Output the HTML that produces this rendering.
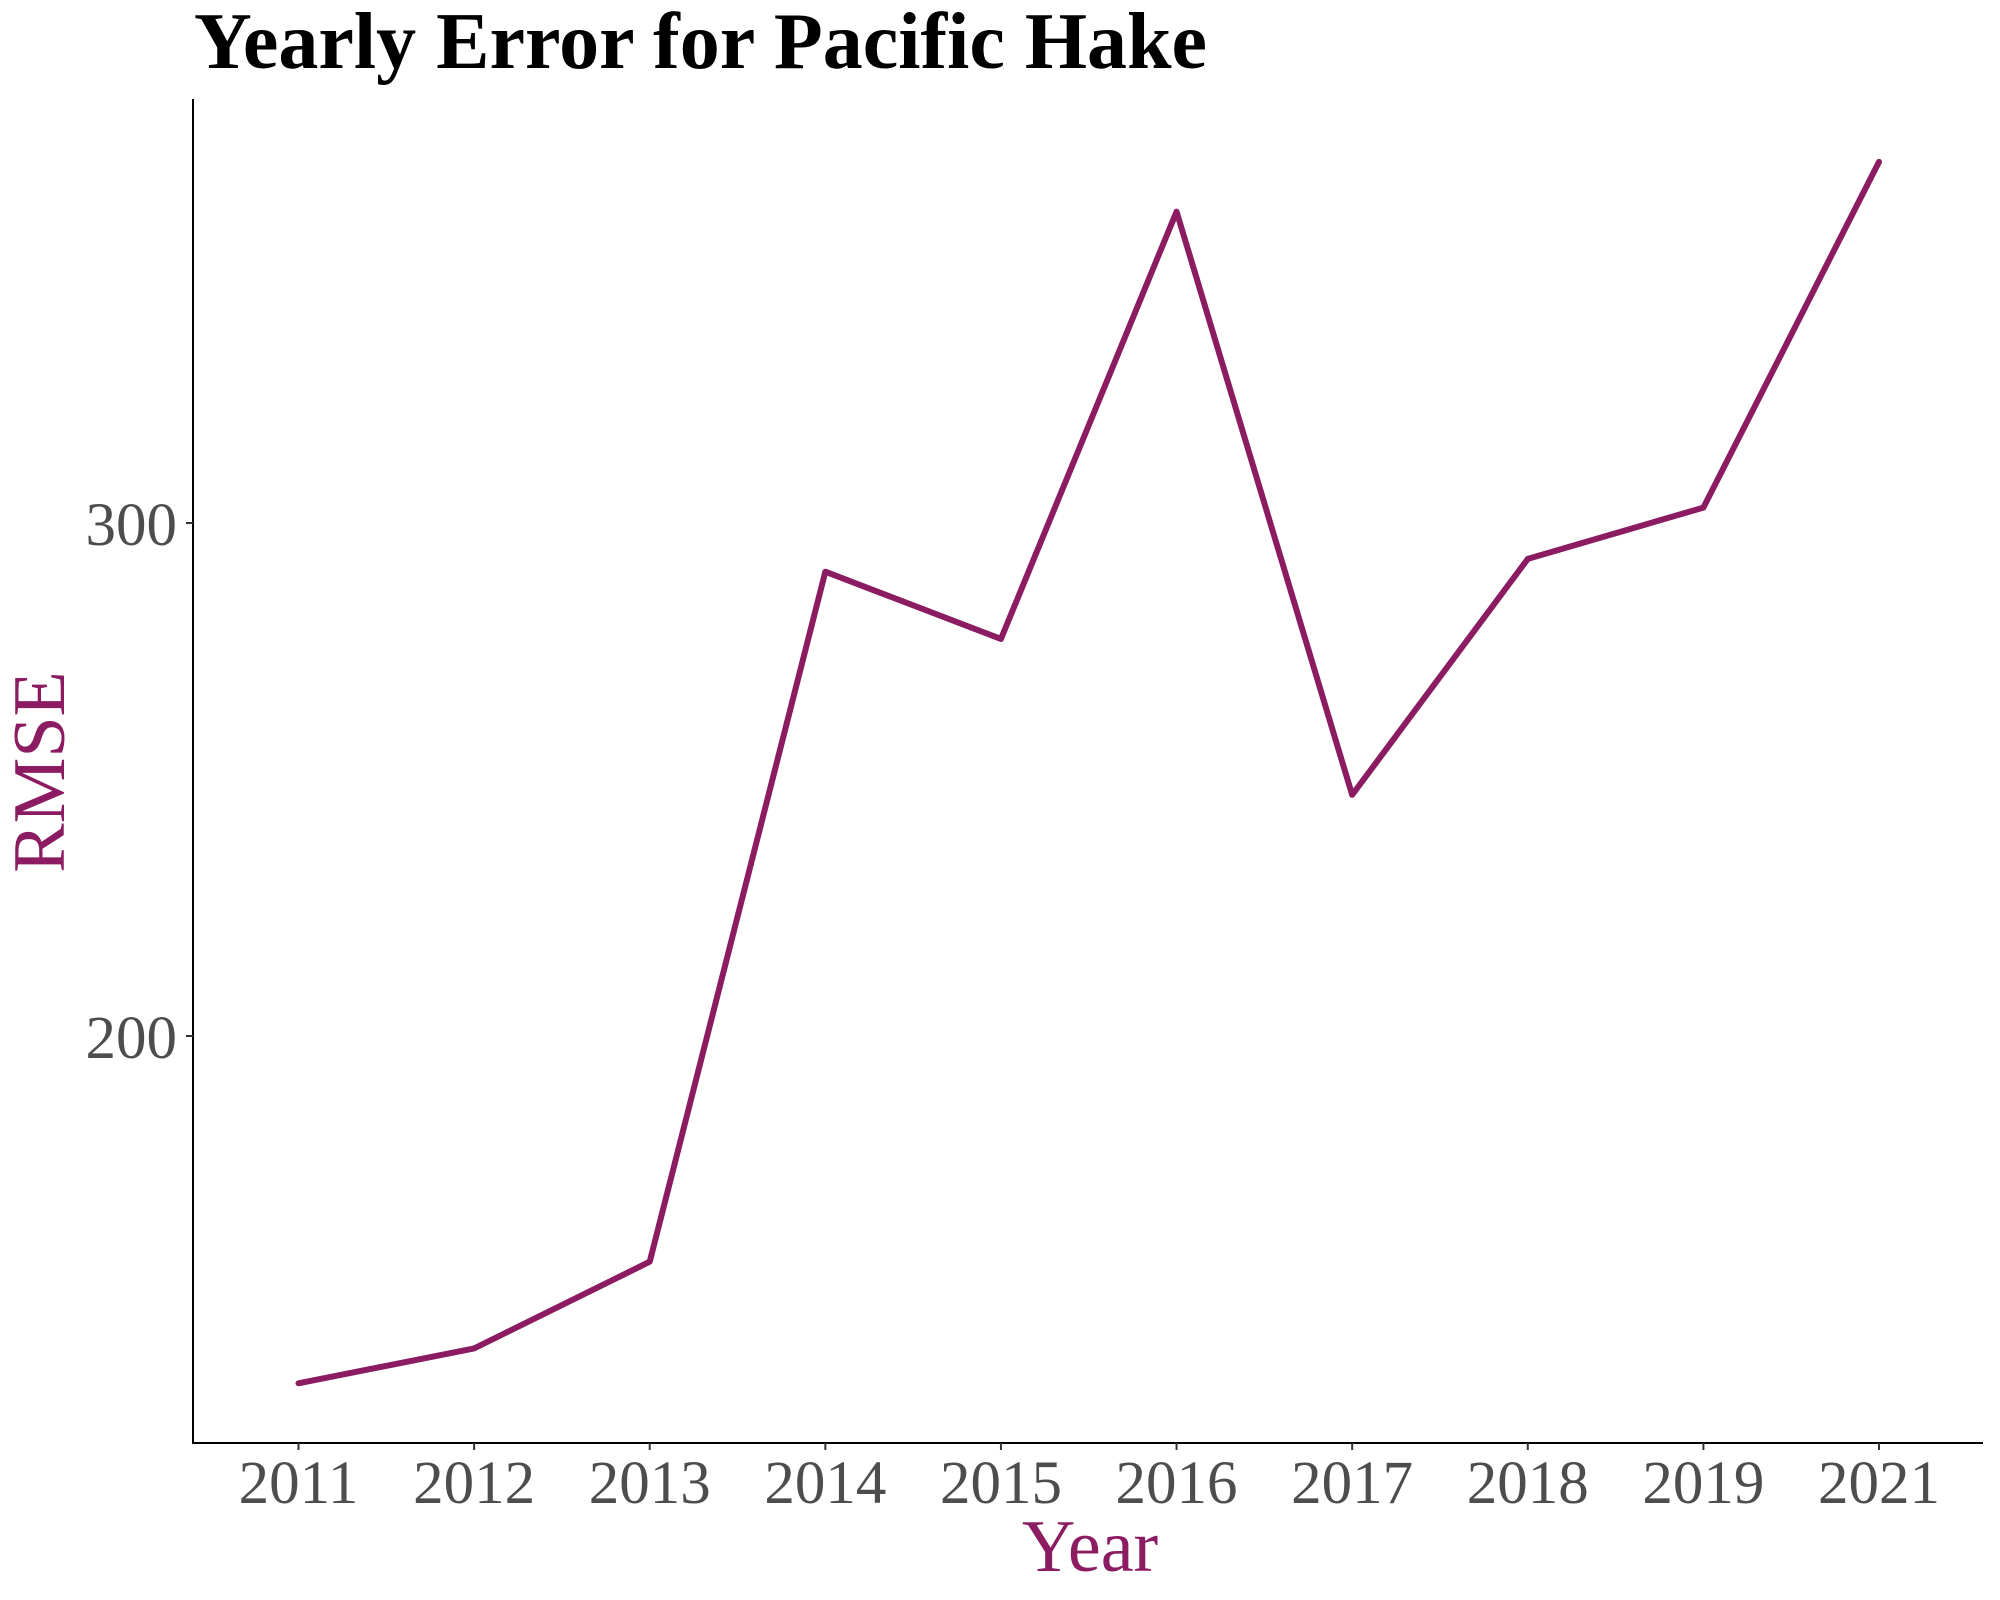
<!DOCTYPE html>
<html><head><meta charset="utf-8"><style>
html,body{margin:0;padding:0;background:#fff;width:2000px;height:1600px;overflow:hidden}
svg text{font-family:"Liberation Serif",serif}
</style></head><body>
<svg id="chart" width="2000" height="1600" xmlns="http://www.w3.org/2000/svg">
<text x="194" y="68" font-size="80" font-weight="bold" fill="#000">Yearly Error for Pacific Hake</text>
<line x1="193" y1="99" x2="193" y2="1444" stroke="#000" stroke-width="2"/>
<line x1="192" y1="1443" x2="1983" y2="1443" stroke="#000" stroke-width="2"/>
<g id="xticks"></g><g id="yticks"></g>
<path id="series" fill="none" stroke="#8B1C62" stroke-width="6" stroke-linejoin="round" stroke-linecap="round"/>
<text x="1090" y="1571" font-size="74" text-anchor="middle" fill="#8B1C62">Year</text>
<text transform="translate(64,772) rotate(-90)" font-size="74" text-anchor="middle" fill="#8B1C62">RMSE</text>
</svg>
<script>
const years = ["2011","2012","2013","2014","2015","2016","2017","2018","2019","2021"];
const rmse = [132.3,139.1,156.0,290.5,277.4,360.7,247.0,293.0,303.0,370.4];
const yTicks = [200,300];
const ns="http://www.w3.org/2000/svg";
function xPos(i){return 298.5+i*(1879-298.5)/9;}
function yPos(v){return 1036-(v-200)*5.13;}
const xg=document.getElementById('xticks'), yg=document.getElementById('yticks');
years.forEach((y,i)=>{
  const t=document.createElementNS(ns,'line');
  
  
  t.setAttribute('x1',xPos(i));t.setAttribute('x2',xPos(i));t.setAttribute('y1',1443);t.setAttribute('y2',1450);
  t.setAttribute('stroke','#333');t.setAttribute('stroke-width','2');xg.appendChild(t);
  const l=document.createElementNS(ns,'text');
  
  
  l.setAttribute('x',xPos(i));l.setAttribute('y',1503);l.setAttribute('font-size','61');
  l.setAttribute('text-anchor','middle');l.setAttribute('fill','#4d4d4d');l.textContent=y;xg.appendChild(l);
});
yTicks.forEach(v=>{
  const t=document.createElementNS(ns,'line');
  
  
  t.setAttribute('x1',186);t.setAttribute('x2',193);t.setAttribute('y1',yPos(v));t.setAttribute('y2',yPos(v));
  t.setAttribute('stroke','#333');t.setAttribute('stroke-width','2');yg.appendChild(t);
  const l=document.createElementNS(ns,'text');
  
  
  l.setAttribute('x',177);l.setAttribute('y',yPos(v)+22);l.setAttribute('font-size','61');
  l.setAttribute('text-anchor','end');l.setAttribute('fill','#4d4d4d');l.textContent=v;yg.appendChild(l);
});
document.getElementById('series').setAttribute('d',rmse.map((v,i)=>(i?'L':'M')+xPos(i)+','+yPos(v)).join(' '));
</script>
</body></html>
